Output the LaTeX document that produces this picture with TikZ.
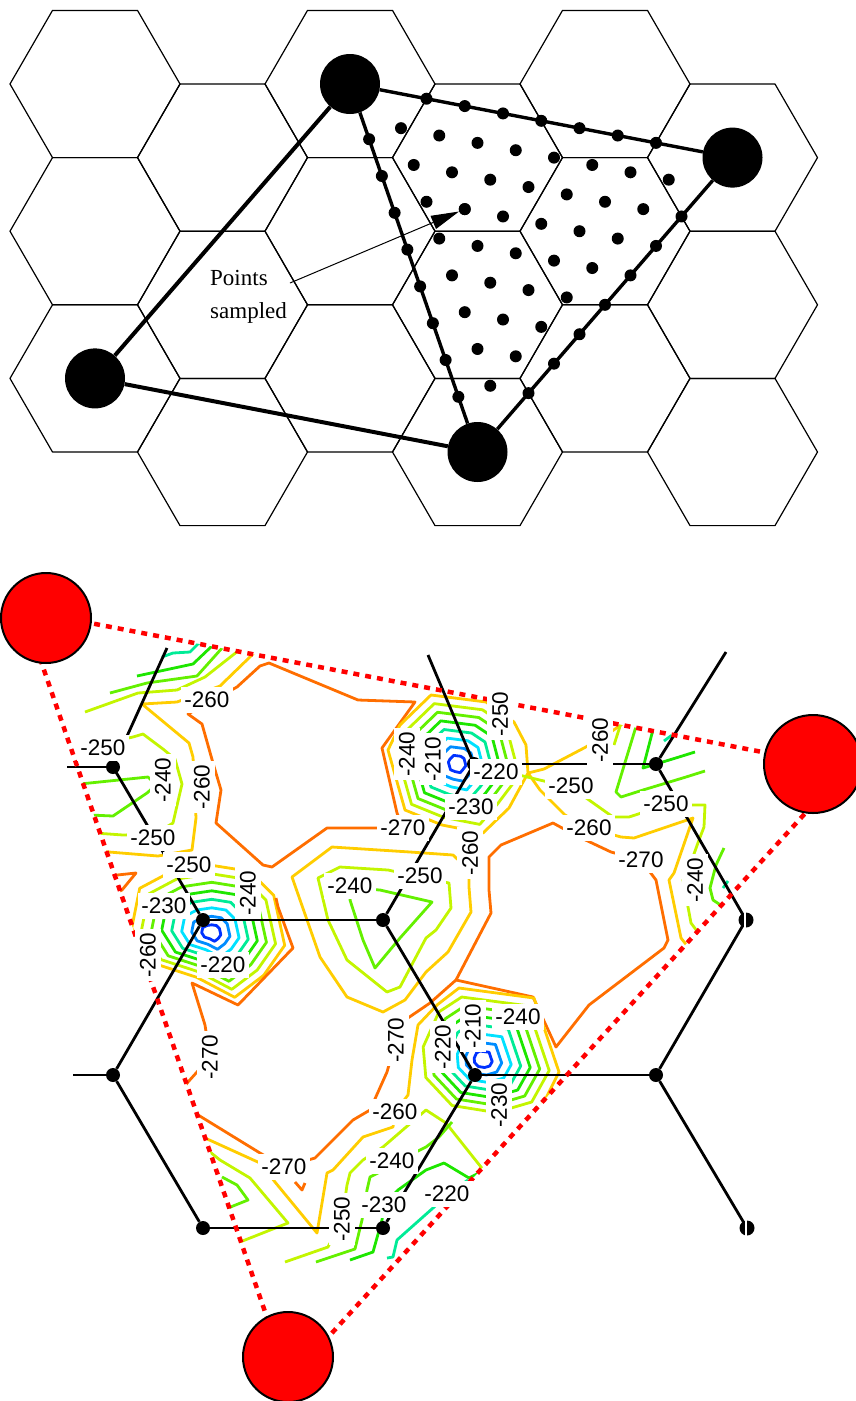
\documentclass[tikz,border=0pt]{standalone}
\usepackage{fontspec}
\setmainfont{Liberation Serif}
\newfontfamily\lsans{Liberation Sans}
\usetikzlibrary{arrows.meta}
\definecolor{c190}{RGB}{0,50,255}
\definecolor{c200}{RGB}{0,140,255}
\definecolor{c210}{RGB}{0,225,255}
\definecolor{c220}{RGB}{0,235,150}
\definecolor{c230}{RGB}{30,230,0}
\definecolor{c240}{RGB}{100,240,0}
\definecolor{c250}{RGB}{195,245,0}
\definecolor{c260}{RGB}{255,205,0}
\definecolor{c270}{RGB}{255,110,0}
\definecolor{redc}{RGB}{255,0,0}
\begin{document}
\begin{tikzpicture}[x=1pt,y=-1pt,
  hexline/.style={line width=1.2pt,line join=round},
  bigdot/.style={circle,fill=black,minimum size=60pt,inner sep=0pt},
  tri/.style={line width=3.4pt},
  leg/.style={line width=4pt},
  sdot/.style={circle,fill=black,minimum size=12pt,inner sep=0pt},
  lbl/.style={font=\fontsize{23}{28}\selectfont,inner sep=0pt,anchor=base west},
  ct/.style={line width=2.8pt,line join=round},
  hexedge/.style={line width=2.8pt},
  hdot/.style={circle,fill=black,minimum size=14pt,inner sep=0pt},
  reddot/.style={redc,line width=4.5pt,dash pattern=on 6pt off 6pt},
  rc/.style={circle,fill=redc,draw=black,line width=2pt,inner sep=0pt},
  lab/.style={fill=white,inner xsep=3pt,inner ysep=5pt,font=\lsans\fontsize{22.5}{24}\selectfont},
  rlab/.style={lab,rotate=90}]
\useasboundingbox (0,0) rectangle (856,1401);

% ---------------- top panel ----------------
\foreach \k in {0,...,5}{\foreach \r in {0,1,2}{
  \pgfmathsetmacro\cx{95+127.5*\k}
  \pgfmathsetmacro\cy{84+mod(\k,2)*73.6+147.2*\r}
  \draw[hexline] (\cx+85,\cy) -- (\cx+42.5,\cy-73.6) -- (\cx-42.5,\cy-73.6) -- (\cx-85,\cy) -- (\cx-42.5,\cy+73.6) -- (\cx+42.5,\cy+73.6) -- cycle;}}

\node[bigdot] (A) at (350,84) {};
\node[bigdot] (B) at (732.5,157.6) {};
\node[bigdot] (C) at (95,378.4) {};
\node[bigdot] (D) at (477.5,452) {};
\draw[leg] (A) -- (C);
\draw[leg] (C) -- (D);
\draw[tri] (A) -- (B);
\draw[tri] (A) -- (D);
\draw[tri] (B) -- (D);

\foreach \i in {2,...,8} \fill (350+38.25*\i,84+7.36*\i) circle (6pt);
\foreach \j in {2,...,8} \fill (732.5-25.5*\j,157.6+29.44*\j) circle (6pt);
\foreach \j in {1,...,8} \fill (356.375+12.75*\j,102.4+36.8*\j) circle (6pt);
\foreach \i in {1,...,8}{\pgfmathtruncatemacro\jm{9-\i}
  \foreach \j in {1,...,\jm}{\fill (350+38.25*\i+12.75*\j,84+7.36*\i+36.8*\j) circle (6pt);}}

\node[sdot] (tgt) at (464.75,209.1) {};
\node[lbl] (pts) at (210,285) {Points};
\node[lbl] (smp) at (210,318.5) {sampled};
\coordinate (as) at (290,283);
\draw[line width=1pt,-{Triangle[length=28pt,width=14pt]}] (as) -- (tgt);

% ---------------- bottom panel ----------------
\coordinate (T1) at (23.4,610.2);
\coordinate (T2) at (846.3,768.1);
\coordinate (T3) at (288.7,1380.5);

\begin{scope}
\clip (T1) -- (T2) -- (T3) -- cycle;
% minimum 1
\foreach \k/\cc in {1/c190,2/c200,3/c210,4/c220,5/c230,6/c240,7/c250}{
  \draw[ct,\cc,shift={(457,764)},scale=\k/8] (-26,-69) -- (29,-62) -- (56,-44) -- (71,13) -- (46,46) -- (26,69) -- (-15,61) -- (-52,46) -- (-69,-14) -- (-57,-39) -- cycle;}
% minimum 2
\foreach \k/\cc in {1/c190,2/c200,3/c210,4/c220,5/c230,6/c240,7/c250,8/c260}{
  \draw[ct,\cc,shift={(211.7,933.3)},scale=\k/8] (0,-68) -- (38,-62) -- (62,-38) -- (73,12) -- (52,42) -- (23,64) -- (-15,44) -- (-58,30) -- (-80,-5) -- (-72,-45) -- (-40,-62) -- cycle;}
% minimum 3
\foreach \k/\cc in {1/c190,2/c200,3/c210,4/c220,5/c230,6/c240,7/c250}{
  \draw[ct,\cc,shift={(482.7,1060)},scale=\k/8] (-24,-72) -- (51,-62) -- (76,12) -- (56,48) -- (15,60) -- (-35,52) -- (-65,20) -- (-68,-15) -- (-50,-55) -- cycle;}

% top-left bands
\draw[ct,c220] (162,657) -- (173,653) -- (190,652) -- (198,644) -- (210,636);
\draw[ct,c230] (137,676) -- (193,664) -- (212,646) -- (222,636);
\draw[ct,c240] (110,693) -- (147,683) -- (197,676) -- (223,647) -- (232,638);
\draw[ct,c250] (85,712) -- (138,693) -- (177,690) -- (205,677) -- (238,651) -- (250,641);
\draw[ct,c260] (265,643) -- (253,654) -- (220,686) -- (177,702) -- (142,704) -- (189,743) -- (193,757) -- (196,818) -- (192,850) -- (158,856) -- (109,852) -- (95,851);
\draw[ct,c270] (237,687) -- (260,666) -- (269,663) -- (358,700) -- (415,702) -- (382,748) -- (397,813) -- (403,828) -- (378,828) -- (327,828) -- (272,867) -- (263,865) -- (216,823) -- (221,790) -- (213,763) -- (202,724) -- (188,714) -- cycle;
\draw[ct,c250] (110,742) -- (133,737) -- (143,734) -- (163,749) -- (175,759) -- (182,784) -- (173,823) -- (155,834) -- (123,835) -- (95,833);
\draw[ct,c240] (80,784) -- (148,777) -- (156,785) -- (147,793) -- (113,816) -- (90,815);
\draw[ct,c270] (108,876) -- (136,873) -- (122,890) -- (114,894);

% around minimum 1
\draw[ct,c260] (400,725) -- (431,695) -- (486,702) -- (514,722) -- (526,745) -- (528,773) -- (509,808) -- (483,833) -- (442,825) -- (405,810) -- (388,750) -- cycle;
\draw[ct,c260] (528,773) -- (544,769) -- (584,748) -- (605,736) -- (628,720);
\draw[ct,c260] (528,773) -- (540,790) -- (565,815) -- (589,828) -- (621,837) -- (634,838) -- (693,818) -- (674,873) -- (669,880) -- (681,938) -- (692,952);

% right region
\draw[ct,c250] (622,720) -- (614,745);
\draw[ct,c240] (638,720) -- (616,792) -- (621,797) -- (643,790) -- (686,777) -- (705,771);
\draw[ct,c230] (655,722) -- (643,768) -- (679,757) -- (695,752);
\draw[ct,c220] (664,741) -- (672,735) -- (678,728);
\draw[ct,c250] (519,775) -- (548,782) -- (571,787) -- (589,800) -- (613,817) -- (629,817) -- (666,805) -- (705,805) -- (704,827) -- (699,840) -- (690,865) -- (683,880) -- (691,923) -- (700,935);
\draw[ct,c240] (724,848) -- (716,865) -- (710,888) -- (713,900) -- (722,906);
\draw[ct,c220] (723,888) -- (728,881);

% orange lines
\draw[ct,c270] (489,890) -- (489,857) -- (501,845) -- (553,823) -- (575,835) -- (611,852) -- (641,860) -- (656,880) -- (668,940) -- (664,948) -- (589,1005) -- (556,1047) -- (533,997) -- (456,980) -- (491,913) -- cycle;
\draw[ct,c270] (456,980) -- (430,1003) -- (405,1020) -- (396,1040) -- (387,1072) -- (370,1110) -- (353,1120) -- (315,1158) -- (284,1167) -- (260,1153) -- (203,1118) -- (190,1110);
\draw[ct,c270] (276,898) -- (278,907) -- (293,948) -- (238,1005) -- (192,983) -- (205,1025) -- (210,1057) -- (197,1072) -- (188,1082) -- (180,1092);

% centre
\draw[ct,c260] (292,877) -- (332,847) -- (410,852) -- (453,855) -- (469,870) -- (469,887) -- (471,912) -- (448,952) -- (426,972) -- (405,1000) -- (383,1012) -- (347,997) -- (320,957) -- cycle;
\draw[ct,c250] (318,878) -- (340,867) -- (388,870) -- (420,877) -- (449,883) -- (451,908) -- (436,930) -- (426,938) -- (400,987) -- (387,992) -- (347,960) -- (328,920) -- cycle;
\draw[ct,c240] (380,890) -- (432,902) -- (400,938) -- (375,968) -- (363,940) -- (350,900) -- (352,888) -- cycle;

% around minimum 3 and lower left
\draw[ct,c260] (200,1135) -- (205,1138) -- (260,1163) -- (275,1182) -- (317,1233) -- (327,1173) -- (333,1170) -- (363,1137) -- (393,1127) -- (395,1112) -- (408,1095) -- (412,1060) -- (418,1025) -- (437,1005) -- (459,988) -- (534,998) -- (559,1072) -- (545,1100) -- (530,1122);
\draw[ct,c250] (205,1148) -- (220,1160) -- (250,1178) -- (288,1223) -- (245,1240) -- (232,1245);
\draw[ct,c250] (285,1262) -- (328,1247) -- (342,1220) -- (347,1185) -- (350,1173) -- (363,1160) -- (383,1147) -- (405,1128) -- (426,1110) -- (446,1123) -- (481,1167) -- (492,1178);
\draw[ct,c240] (222,1177) -- (237,1185) -- (248,1200) -- (233,1206) -- (224,1210);
\draw[ct,c240] (316,1262) -- (355,1249) -- (362,1220) -- (367,1190) -- (370,1177) -- (380,1172) -- (400,1160) -- (426,1147) -- (439,1137) -- (452,1122);
\draw[ct,c230] (350,1260) -- (373,1252) -- (382,1220) -- (384,1205) -- (398,1190) -- (426,1170) -- (444,1163) -- (469,1178) -- (485,1170);
\draw[ct,c220] (387,1258) -- (393,1257) -- (397,1240) -- (433,1208) -- (447,1194) -- (468,1180);
\draw[ct,c270] (295,1182) -- (302,1190) -- (305,1183);
\end{scope}

% black lattice
\node[hdot] (P2) at (203,920) {};
\node[hdot] (P3) at (383,920) {};
\node[hdot] (P4) at (113,1075) {};
\node[hdot] (P5) at (203,1228) {};
\node[hdot] (P6) at (383,1228) {};
\node[hdot] (P7) at (475,1075) {};
\node[hdot] (P9) at (656,764) {};
\node[hdot] (P11) at (656,1075) {};
\coordinate (P1) at (113,767);
\coordinate (P8) at (474,764);
\coordinate (P10) at (746,920);
\coordinate (P12) at (747,1228);
\coordinate (S1) at (67,767);
\coordinate (S4) at (73,1075);
\coordinate (U1) at (167,648);
\coordinate (U8) at (428,655);
\coordinate (U9) at (726,652);
\draw[hexedge] (S1) -- (P1);
\draw[hexedge] (P1) -- (U1);
\draw[hexedge] (P1) -- (P2);
\draw[hexedge] (P2) -- (P3);
\draw[hexedge] (P2) -- (P4);
\draw[hexedge] (S4) -- (P4);
\draw[hexedge] (P4) -- (P5);
\draw[hexedge] (P5) -- (P6);
\draw[hexedge] (P6) -- (P7);
\draw[hexedge] (P3) -- (P7);
\draw[hexedge] (P3) -- (P8);
\draw[hexedge] (P8) -- (U8);
\draw[hexedge] (P8) -- (P9);
\draw[hexedge] (P9) -- (U9);
\draw[hexedge] (P9) -- (P10);
\draw[hexedge] (P10) -- (P11);
\draw[hexedge] (P11) -- (P7);
\draw[hexedge] (P11) -- (P12);
\begin{scope}\clip (100,761) rectangle (126,780); \fill (P1) circle (7pt);\end{scope}
\fill (P8) circle (7pt);
\fill (P10) circle (7.5pt);
\fill (P12) circle (7.5pt);
\draw[white,line width=1.2pt] (745,911) -- (745,929);
\draw[white,line width=1.2pt] (746,1219) -- (746,1237);

% red triangle
\draw[reddot] (T1) -- (T2) -- (T3) -- cycle;

% labels
\node[lab] (l1) at (207,700) {-260};
\node[lab] (l2) at (103,748) {-250};
\node[rlab] (l3) at (163,780) {-240};
\node[rlab] (l4) at (202,787) {-260};
\node[lab] (l5) at (153,838) {-250};
\node[lab] (l6) at (189,865) {-250};
\node[lab] (l7) at (403,828) {-270};
\node[rlab] (l8) at (407,754) {-240};
\node[rlab] (l9) at (433,759) {-210};
\node[lab] (l10) at (350,886) {-240};
\node[lab] (l11) at (420,876) {-250};
\node[rlab] (l12) at (500,714) {-250};
\node[lab] (l13) at (496,772) {-220};
\node[lab] (l14) at (471,807) {-230};
\node[rlab] (l15) at (600,740) {-260};
\node[lab] (l16) at (571,786) {-250};
\node[lab] (l17) at (666,804) {-250};
\node[lab] (l18) at (589,828) {-260};
\node[lab] (l19) at (641,860) {-270};
\node[rlab] (l20) at (470,853) {-260};
\node[rlab] (l21) at (695,880) {-240};
\node[lab] (l22) at (164,906) {-230};
\node[rlab] (l23) at (248,893) {-240};
\node[rlab] (l24) at (148,955) {-260};
\node[lab] (l25) at (223,965) {-220};
\node[rlab] (l26) at (210,1057) {-270};
\node[rlab] (l27) at (396,1040) {-270};
\node[lab] (l28) at (395,1112) {-260};
\node[lab] (l29) at (284,1167) {-270};
\node[lab] (l30) at (392,1161) {-240};
\node[rlab] (l31) at (443,1047) {-220};
\node[rlab] (l32) at (473,1026) {-210};
\node[lab] (l33) at (518,1017) {-240};
\node[rlab] (l34) at (499,1105) {-230};
\node[rlab] (l35) at (342,1219) {-250};
\node[lab] (l36) at (384,1205) {-230};
\node[lab] (l37) at (447,1194) {-220};

% red circles
\node[rc,minimum size=90pt] (R1) at (46,618) {};
\node[rc,minimum size=98pt] (R2) at (813,764) {};
\node[rc,minimum size=90pt] (R3) at (288,1357) {};
\end{tikzpicture}
\end{document}
